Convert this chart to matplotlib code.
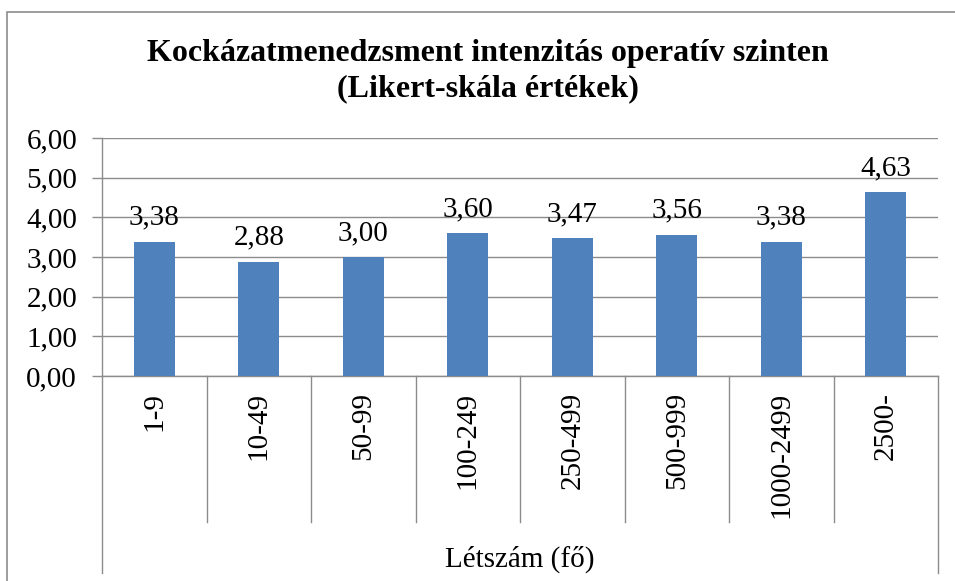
import matplotlib
matplotlib.use('Agg')
import matplotlib.pyplot as plt
from matplotlib.patches import Rectangle
from matplotlib.transforms import blended_transform_factory
import numpy as np

# DATA
categories = ['1-9', '10-49', '50-99', '100-249', '250-499', '500-999', '1000-2499', '2500-']
values = [3.38, 2.88, 3.00, 3.60, 3.47, 3.56, 3.38, 4.63]
y_ticks = [0, 1, 2, 3, 4, 5, 6]
y_tick_labels = ['0,00', '1,00', '2,00', '3,00', '4,00', '5,00', '6,00']

TITLE = 'Kockázatmenedzsment intenzitás operatív szinten\n(Likert-skála értékek)'
X_TITLE = 'Létszám (fő)'

# STYLE
BAR_COLOR = '#4F81BD'
LINE_GRAY = '#8C8C8C'
FS = 21
W, H = 955, 581

plt.rcParams['font.family'] = ['Liberation Serif', 'DejaVu Serif']

fig = plt.figure(figsize=(W / 100, H / 100), dpi=100)

# plot area in pixels
left, right, top, bottom = 102, 938, 138, 376
ax = fig.add_axes([left / W, 1 - bottom / H, (right - left) / W, (bottom - top) / H])

x = np.arange(len(categories))
ax.bar(x, values, width=0.39, color=BAR_COLOR, zorder=3)

for xi, v in zip(x, values):
    ax.annotate(f'{v:.2f}'.replace('.', ','), (xi, v), xytext=(0, 8),
                textcoords='offset points', ha='center', va='bottom', fontsize=FS)

ax.set_xlim(-0.5, len(categories) - 0.5)
ax.set_ylim(0, 6)
ax.set_yticks(y_ticks)
ax.set_yticklabels(y_tick_labels, fontsize=FS)
ax.tick_params(axis='y', length=7, color=LINE_GRAY, width=1, pad=11)
ax.set_xticks([])
ax.grid(axis='y', color=LINE_GRAY, linewidth=1, zorder=0)

for s in ['top', 'right']:
    ax.spines[s].set_visible(False)
for s in ['left', 'bottom']:
    ax.spines[s].set_color(LINE_GRAY)
    ax.spines[s].set_linewidth(1)

# category separators below the axis
trans = blended_transform_factory(ax.transData, ax.transAxes)
inner = -(522 - bottom) / (bottom - top)
outer = -(573 - bottom) / (bottom - top)
for k in range(len(categories) + 1):
    xb = k - 0.5
    yb = outer if k in (0, len(categories)) else inner
    ax.plot([xb, xb], [0, yb], color=LINE_GRAY, lw=1, transform=trans, clip_on=False)

# rotated category labels
for xi, cat in zip(x, categories):
    ax.text(xi, -(392 - bottom) / (bottom - top), cat, transform=trans, rotation=90,
            ha='center', va='top', fontsize=FS)

# axis title
fig.text((left + right) / 2 / W, 1 - 567 / H, X_TITLE, ha='center', va='baseline', fontsize=FS)

# chart title
fig.text(488 / W, 1 - 71 / H, TITLE, ha='center', va='center', fontsize=23,
         fontweight='bold', linespacing=1.3)

# chart border (cropped at right and bottom)
fig.patches.append(Rectangle((7 / W, -0.1), 1.2, 1.1 - 12 / H, transform=fig.transFigure,
                             fill=False, edgecolor=LINE_GRAY, lw=1.2))

fig.savefig('out.png', dpi=100)
